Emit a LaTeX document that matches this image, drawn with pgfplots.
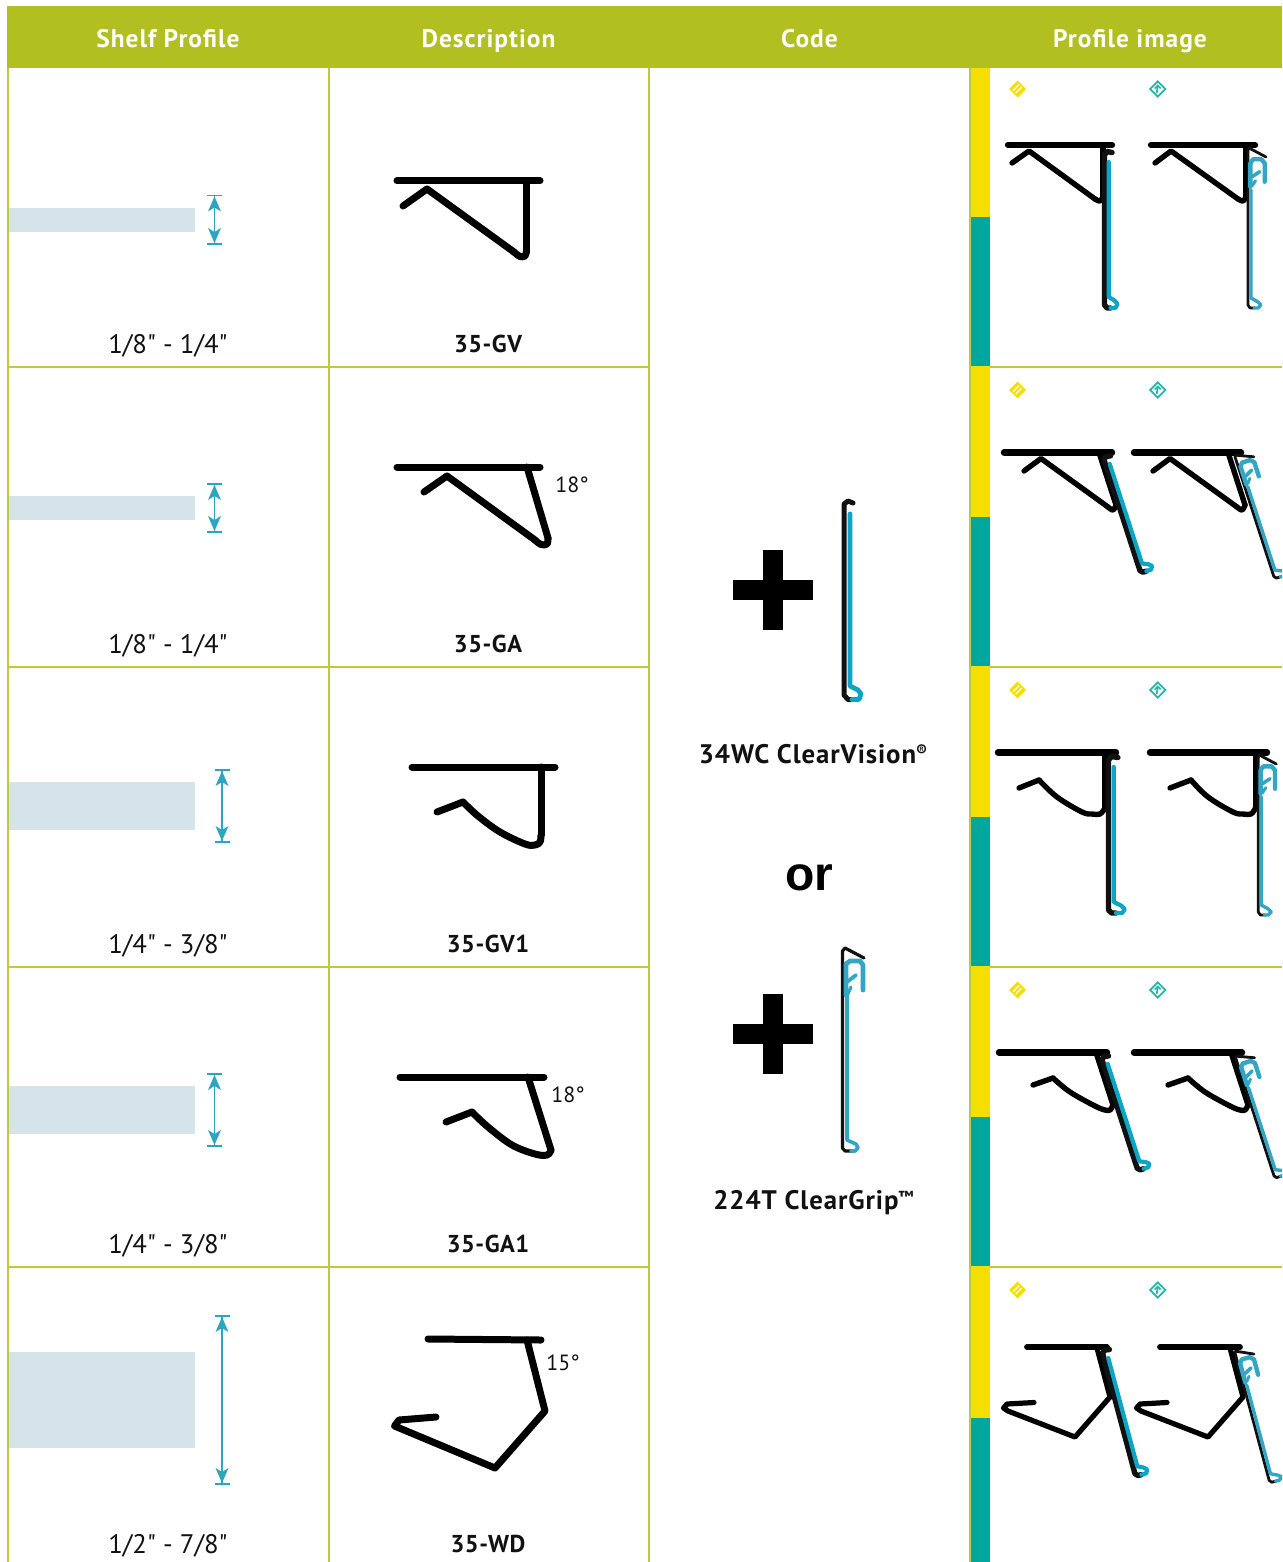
\documentclass[border=0pt]{standalone}
\usepackage{fontspec}
\usepackage{pgfplots}
\usepackage{pgfplotstable}
\pgfplotsset{compat=1.18}
\setmainfont{PT Sans}
\newfontfamily\szfont{PT Sans}
\newfontfamily\hdfont[LetterSpace=4]{PT Sans Bold}
\newfontfamily\cdfont[LetterSpace=2]{PT Sans Bold}
\newfontfamily\lbfont[LetterSpace=3.4]{PT Sans Bold}
\newfontfamily\orfont{Liberation Sans Bold}
\definecolor{hdr}{HTML}{B1BF20}
\definecolor{grid}{HTML}{BECA3C}
\definecolor{ylw}{HTML}{F5DF00}
\definecolor{tl}{HTML}{00A79D}
\definecolor{barb}{HTML}{D5E3EB}
\definecolor{arw}{HTML}{2FA4BF}
\definecolor{cv}{HTML}{0DA5C5}
\definecolor{cg}{HTML}{33A6C4}
\definecolor{ink}{HTML}{111111}

\pgfplotstableread{
x y
7.5 -2.5
2.5 -3.5
0 0
0 150
2.5 153
6 153
}\cvblack
\pgfplotstableread{
x y
4.2 7
4.2 142
10 145.5
13 149
11 153
6 153
}\cvblue
\pgfplotstableread{
x y
18 7
1 -2
0 0
0 155
2 158
7 158
}\cgblack
\pgfplotstableread{
x y
3 40
3 148
10 152
13 155
10 158
6 158
}\cgblue
\pgfplotstableread{
x y
16.7 31.7
16.7 13.3
13.3 9.3
5 9.3
2.3 13.3
2.3 36.7
}\cghead
\pgfplotstableread{
x y
4 26.7
11.7 21.7
}\cgtab
\pgfplotstableread{
x y
7.5 30.7
4 36
}\cgbarb
\pgfplotstableread{
x y
0 0
6.5 15
0 11
-6.5 15
}\arrowhead
\pgfplotstableread{
x y
0 -8.5
8.5 0
0 8.5
-8.5 0
}\dia
\pgfplotstableread{
x y
-4.5 1.5
1.5 -4.5
}\ya
\pgfplotstableread{
x y
-2 4
4 -2
}\yb
\pgfplotstableread{
x y
-3 -0.5
0 -3.5
3 -0.5
}\tia
\pgfplotstableread{
x y
0 -3
-1 4
}\tib

\newcommand\rect[5]{\addplot[fill=#5,draw=none] coordinates {(#1,#2) (#3,#2) (#3,#4) (#1,#4)} --cycle;}
\newcommand\pr[3]{\addplot[color=#2,line width=#1*0.5pt,line cap=round,line join=round] coordinates {#3};}
\newcommand\prs[3]{\addplot[color=#2,line width=#1*0.5pt,line cap=round,line join=round,smooth,tension=0.6] coordinates {#3};}
\newcommand\gl[1]{\addplot[color=grid,line width=1pt] coordinates {#1};}
% table, colour, width, ox, oy, angle, xscale, yscale
\newcommand\lc[8]{\addplot[color=#2,line width=#3*0.5pt,line cap=round,line join=round] table[
  x expr={#4+#7*\thisrow{x}*cos(#6)+#8*\thisrow{y}*sin(#6)},
  y expr={#5-#7*\thisrow{x}*sin(#6)+#8*\thisrow{y}*cos(#6)}] {#1};}
\newcommand\cvstrip[5]{\lc{\cvblack}{ink}{5.4}{#1}{#2}{#3}{#4}{#5}\lc{\cvblue}{cv}{4.2}{#1}{#2}{#3}{#4}{#5}}
\newcommand\cgstrip[5]{\lc{\cgblack}{ink}{2.8}{#1}{#2}{#3}{#4}{#5}
  \lc{\cgblue}{cg}{3.4}{#1}{#2}{#3}{#4}{#5}
  \lc{\cghead}{cg}{4.4}{#1}{#2}{#3}{#4}{#5}
  \lc{\cgtab}{cg}{3.6}{#1}{#2}{#3}{#4}{#5}
  \lc{\cgbarb}{cg}{3}{#1}{#2}{#3}{#4}{#5}}
\newcommand\dimarr[3]{%
  \addplot[color=arw,line width=0.7pt] coordinates {(#1-7.5,#2) (#1+7.5,#2)};
  \addplot[color=arw,line width=0.7pt] coordinates {(#1-7.5,#3) (#1+7.5,#3)};
  \addplot[color=arw,line width=0.6pt] coordinates {(#1,#2) (#1,#3)};
  \addplot[fill=arw,draw=none] table[x expr={#1+\thisrow{x}},y expr={#2+1+\thisrow{y}}] {\arrowhead} --cycle;
  \addplot[fill=arw,draw=none] table[x expr={#1+\thisrow{x}},y expr={#3-1-\thisrow{y}}] {\arrowhead} --cycle;}
\newcommand\icons[1]{%
  \addplot[fill=ylw,draw=none] table[x expr={1017.7+\thisrow{x}},y expr={#1+\thisrow{y}}] {\dia} --cycle;
  \addplot[color=white,line width=0.6pt] table[x expr={1017.7+\thisrow{x}},y expr={#1+\thisrow{y}}] {\ya};
  \addplot[color=white,line width=0.6pt] table[x expr={1017.7+\thisrow{x}},y expr={#1+\thisrow{y}}] {\yb};
  \addplot[color=tl!85!white,line width=0.85pt,line join=miter] table[x expr={1157.7+\thisrow{x}*0.9},y expr={#1+\thisrow{y}*0.9}] {\dia} --cycle;
  \addplot[color=tl!85!white,line width=0.85pt] table[x expr={1157.7+\thisrow{x}},y expr={#1+\thisrow{y}}] {\tia};
  \addplot[color=tl!85!white,line width=0.85pt] table[x expr={1157.7+\thisrow{x}},y expr={#1+\thisrow{y}}] {\tib};}
\newcommand\hd[2]{\node[anchor=base,text=white,font=\fontsize{12.7}{14}\hdfont] at (axis cs:#1,48) {#2};}
\newcommand\sz[2]{\node[anchor=base,text=ink,font=\fontsize{13.4}{15}\szfont] at (axis cs:168,#1) {#2};}
\newcommand\cd[2]{\node[anchor=base,text=ink,font=\fontsize{12.2}{14}\cdfont] at (axis cs:488,#1) {#2};}
\newcommand\ang[3]{\node[anchor=center,text=ink,font=\fontsize{11}{13}\selectfont] at (axis cs:#1,#2) {#3};}
\newcommand\sups[1]{\raisebox{0.5ex}{\fontsize{8}{9}\selectfont #1}}

\begin{document}
\begin{tikzpicture}
\useasboundingbox (0,0) rectangle (641pt,781pt);
\begin{axis}[
  hide axis, scale only axis, width=641pt, height=781pt,
  xmin=0, xmax=1282, ymin=0, ymax=1562, y dir=reverse,
  clip=true, axis on top=false]
% header
\rect{7}{6}{1282}{68}{hdr}
% grid
\gl{(8,68) (8,1562)}
\gl{(328.5,68) (328.5,1562)}
\gl{(649,68) (649,1562)}
\gl{(969.5,68) (969.5,1562)}
\gl{(8,367) (649,367)}
\gl{(8,667) (649,667)}
\gl{(8,967) (649,967)}
\gl{(8,1267) (649,1267)}
\gl{(990,367) (1282,367)}
\gl{(990,667) (1282,667)}
\gl{(990,967) (1282,967)}
\gl{(990,1267) (1282,1267)}
% stripes
\rect{971}{68}{990}{217}{ylw}
\rect{971}{217}{990}{366}{tl}
\rect{971}{366}{990}{517}{ylw}
\rect{971}{517}{990}{666}{tl}
\rect{971}{666}{990}{817}{ylw}
\rect{971}{817}{990}{966}{tl}
\rect{971}{966}{990}{1117}{ylw}
\rect{971}{1117}{990}{1266}{tl}
\rect{971}{1266}{990}{1418}{ylw}
\rect{971}{1418}{990}{1562}{tl}
% shelf bars
\rect{9}{208}{195}{232}{barb}
\rect{9}{496}{195}{520}{barb}
\rect{9}{782}{195}{830}{barb}
\rect{9}{1086}{195}{1134}{barb}
\rect{9}{1352}{195}{1448}{barb}
\dimarr{214.5}{195.5}{244}
\dimarr{214.5}{484}{532}
\dimarr{222}{770}{842}
\dimarr{214.5}{1074}{1146}
\dimarr{222}{1316}{1484}
% description profiles
\pr{7}{black}{(397,181) (540,181)}
\pr{7}{black}{(403,206) (427,189) (514,252)}
\prs{7}{black}{(514,252) (520,256.5) (525,256) (526.5,251)}
\pr{7}{black}{(526.5,251) (526.5,181)}
\pr{7}{black}{(397,467) (540,467)}
\pr{7}{black}{(424,492) (447,476) (535,540)}
\prs{7}{black}{(535,540) (541,544.5) (547,544) (548,538)}
\pr{7}{black}{(548,538) (527,467)}
\pr{7}{black}{(412,767) (555,767)}
\pr{7}{black}{(437,812) (463,802)}
\prs{7}{black}{(463,802) (478,816) (500,832) (525,844) (535,845) (540,842) (541,835)}
\pr{7}{black}{(541,835) (541,767)}
\pr{7}{black}{(400,1077) (544,1077)}
\pr{7}{black}{(446,1122) (472,1112)}
\prs{7}{black}{(472,1112) (488,1127) (512,1145) (535,1154) (547,1155) (551,1150)}
\pr{7}{black}{(551,1150) (528,1077)}
\pr{7}{black}{(428,1339) (541,1340)}
\pr{7}{black}{(436,1417) (399,1420) (394.5,1426) (495,1468) (545,1411) (527,1340)}
% centre column
\rect{733}{580}{813}{600}{black}
\rect{763}{550}{783}{630}{black}
\rect{733}{1024}{813}{1044}{black}
\rect{763}{994}{783}{1074}{black}
\pr{5}{ink}{(853,503) (848,501) (844,504) (844,695) (848,699.5) (851,699.5)}
\pr{4.8}{cv}{(850,514) (850,686) (858,690) (861,694) (859,699.5) (852,699.5)}
\pr{3.2}{ink}{(864,958) (845,948) (842.5,951) (842.5,1148) (845,1151) (851,1151)}
\pr{3.6}{cg}{(847,990) (847,1140) (856,1144) (858,1148) (855,1151) (851,1151)}
\pr{4.8}{cg}{(863,990) (863,965) (860,961) (850,961) (846,964) (846,995)}
\pr{3.8}{cg}{(847,982) (856,975)}
\pr{3.2}{cg}{(851,987) (847,996)}
% profile images: row 1
\pr{6.4}{black}{(1008,145) (1112,145)}
\pr{5.4}{black}{(1012,163) (1029,151) (1095,199)}
\prs{5.4}{black}{(1095,199) (1100,201) (1103,197)}
\pr{5.4}{black}{(1103,197) (1103,145)}
\cvstrip{1104.5}{155}{0}{1}{1}
\pr{6.4}{black}{(1151,145) (1255,145)}
\pr{5.4}{black}{(1155,163) (1171,151) (1238,199)}
\prs{5.4}{black}{(1238,199) (1243,201) (1246,197)}
\pr{5.4}{black}{(1246,197) (1246,145)}
\cgstrip{1248}{150}{0}{1}{1}
% row 2
\pr{6.4}{black}{(1004,452.5) (1112,452.5)}
\pr{5.4}{black}{(1024,471) (1041,458.5) (1108,507)}
\prs{5.4}{black}{(1108,507) (1113,510) (1116,505)}
\pr{5.4}{black}{(1116,505) (1099,452.5)}
\cvstrip{1104}{460}{18}{1}{0.776}
\pr{6.4}{black}{(1134,452.5) (1241,452.5)}
\pr{5.4}{black}{(1153,471) (1170,458.5) (1237,507)}
\prs{5.4}{black}{(1237,507) (1242,510) (1245,505)}
\pr{5.4}{black}{(1245,505) (1228,452.5)}
\cgstrip{1235}{457}{18}{1}{0.81}
% row 3
\pr{6.4}{black}{(998,752.5) (1116,752.5)}
\pr{5.4}{black}{(1019,788) (1039,780)}
\prs{5.4}{black}{(1039,780) (1057,797) (1082,812) (1092,814) (1100,814) (1105,808)}
\pr{5.4}{black}{(1105,808) (1105,752.5)}
\cvstrip{1108.5}{760}{0}{1.25}{1}
\pr{6.4}{black}{(1150,752.5) (1267,752.5)}
\pr{5.4}{black}{(1170,788) (1191,780)}
\prs{5.4}{black}{(1191,780) (1208,797) (1233,812) (1243,814) (1251,814) (1255.5,808)}
\pr{5.4}{black}{(1255.5,808) (1255.5,752.5)}
\cgstrip{1258.3}{757}{0}{1}{1}
% row 4
\pr{6.4}{black}{(999,1052.5) (1107,1052.5)}
\pr{5.4}{black}{(1033,1085) (1053,1078)}
\prs{5.4}{black}{(1053,1078) (1070,1092) (1095,1106) (1105,1110) (1110,1110) (1113,1105)}
\pr{5.4}{black}{(1113,1105) (1096,1052.5)}
\cvstrip{1102}{1060}{18}{1}{0.76}
\pr{6.4}{black}{(1134,1052.5) (1242,1052.5)}
\pr{5.4}{black}{(1168,1085) (1188,1078)}
\prs{5.4}{black}{(1188,1078) (1205,1092) (1230,1106) (1240,1110) (1245,1110) (1248,1105)}
\pr{5.4}{black}{(1248,1105) (1231,1052.5)}
\cgstrip{1235.7}{1058}{18}{1}{0.8}
% row 5
\pr{5.8}{black}{(1027,1347) (1107,1347)}
\pr{5.2}{black}{(1034,1402.5) (1007,1404) (1003.5,1408) (1008,1411) (1075,1437) (1110,1397) (1097,1348)}
\cvstrip{1102.7}{1353.5}{15}{1}{0.83}
\pr{5.8}{black}{(1160,1347) (1240,1347)}
\pr{5.2}{black}{(1167,1402.5) (1140,1404) (1136.5,1408) (1141,1411) (1208,1437) (1243,1397) (1230,1348)}
\cgstrip{1235}{1353}{15}{1}{0.85}
% icons
\icons{89}
\icons{390}
\icons{690}
\icons{990}
\icons{1290}
% texts
\hd{168}{Shelf Profile}
\hd{488.5}{Description}
\hd{809.5}{Code}
\hd{1130}{Profile image}
\sz{353}{1/8" - 1/4"}
\sz{653}{1/8" - 1/4"}
\sz{953}{1/4" - 3/8"}
\sz{1253}{1/4" - 3/8"}
\sz{1553}{1/2" - 7/8"}
\cd{352.5}{35-GV}
\cd{652.5}{35-GA}
\cd{952.5}{35-GV1}
\cd{1252.5}{35-GA1}
\cd{1552.5}{35-WD}
\ang{572}{485}{18°}
\ang{568}{1095}{18°}
\ang{563}{1363}{15°}
\node[anchor=base,text=ink,font=\fontsize{13.4}{15}\lbfont] at (axis cs:813,763.5) {34WC ClearVision\sups{®}};
\node[anchor=base,text=ink,font=\fontsize{13.4}{15}\lbfont] at (axis cs:813.5,1209) {224T ClearGrip\sups{™}};
\node[anchor=center,text=black,font=\fontsize{24}{26}\orfont] at (axis cs:809.5,878) {or};
\end{axis}
\end{tikzpicture}
\end{document}
